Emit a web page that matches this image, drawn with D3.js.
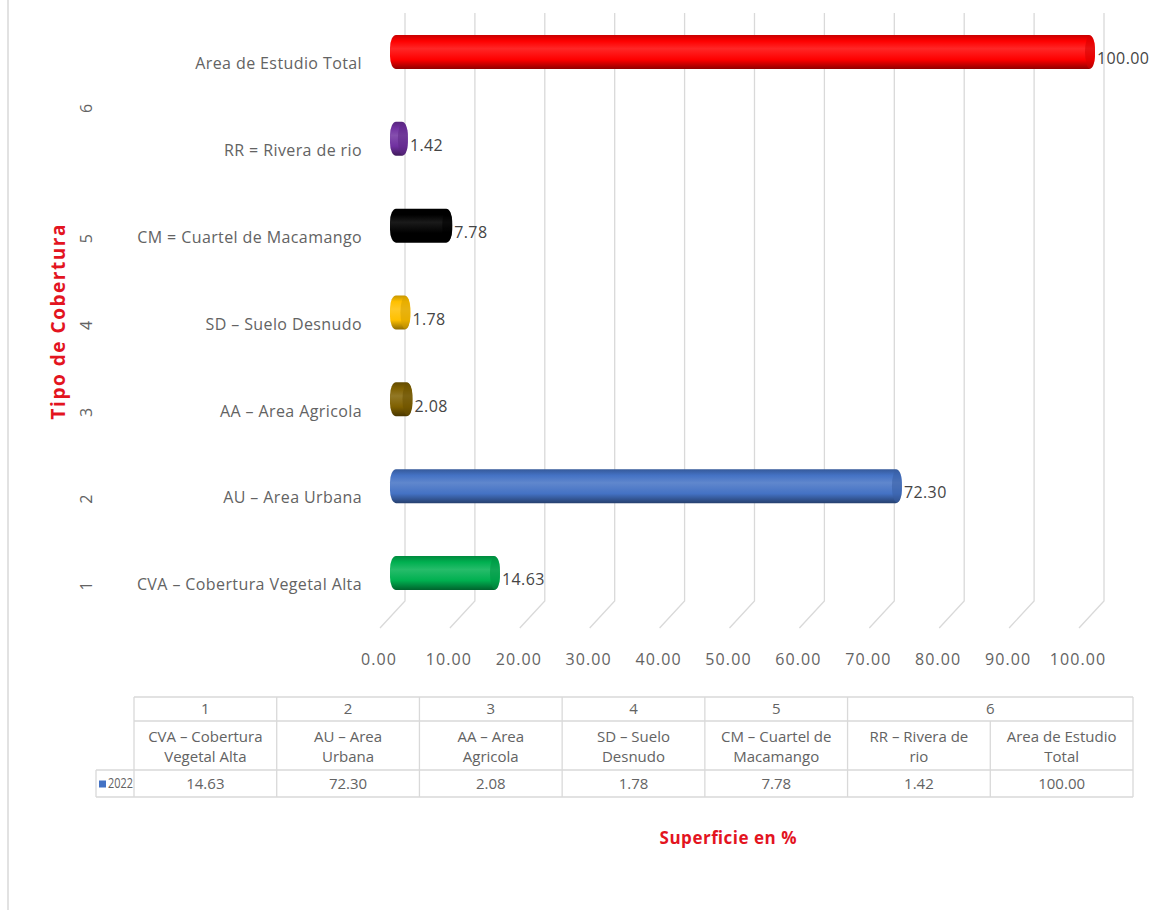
<!DOCTYPE html>
<html>
<head>
<meta charset="utf-8">
<script src="https://cdn.jsdelivr.net/npm/d3@7/dist/d3.min.js"></script>
<style>
  body { margin: 0; background: #fff; }
  text { font-family: "Open Sans", Lato, sans-serif; }
</style>
</head>
<body>
<div id="chart"></div>
<script>
// datos del grafico
const groups = ["1", "2", "3", "4", "5", "6", "6"];
const categories = ["CVA – Cobertura Vegetal Alta", "AU – Area Urbana", "AA – Area Agricola",
  "SD – Suelo Desnudo", "CM = Cuartel de Macamango", "RR = Rivera de rio", "Area de Estudio Total"];
const tableNames = [["CVA – Cobertura", "Vegetal Alta"], ["AU – Area", "Urbana"], ["AA – Area", "Agricola"],
  ["SD – Suelo", "Desnudo"], ["CM – Cuartel de", "Macamango"], ["RR – Rivera de", "rio"], ["Area de Estudio", "Total"]];
const values2022 = [14.63, 72.30, 2.08, 1.78, 7.78, 1.42, 100.00];
const barColors = ["#00b050", "#4472c4", "#7f6000", "#ffc000", "#000000", "#7030a0", "#ff0000"];
const seriesName = "2022";

const W = 1150, H = 910;
const svg = d3.select("#chart").append("svg")
  .attr("width", W).attr("height", H);

const gray = "#636363";
const gridColor = "#d9d9d9";

// borde izquierdo
svg.append("line").attr("x1", 8).attr("x2", 8).attr("y1", 0).attr("y2", H)
  .attr("stroke", gridColor).attr("stroke-width", 1.5);

// escalas
const idx = d3.range(categories.length);
const y = d3.scalePoint().domain(idx.slice().reverse()).range([52, 573]);
const xGrid = d3.scaleLinear().domain([0, 100]).range([405, 1104]);
const xBar = d3.scaleLinear().domain([0, 100]).range([394, 1091]);
const gridTop = 13, gridBot = 601, floorDx = -25, floorDy = 27;

// lineas de cuadricula con piso en perspectiva
const ticks = xGrid.ticks(10);
svg.append("g").selectAll("path").data(ticks).join("path")
  .attr("d", d => `M${xGrid(d)},${gridTop}V${gridBot}l${floorDx},${floorDy}`)
  .attr("fill", "none").attr("stroke", gridColor).attr("stroke-width", 1.3);

svg.append("g").selectAll("text").data(ticks).join("text")
  .attr("x", d => xGrid(d) + floorDx - 1)
  .attr("y", 661)
  .attr("text-anchor", "middle").attr("dominant-baseline", "middle")
  .attr("font-size", 16).attr("letter-spacing", 1.1).attr("fill", gray)
  .text(d => d3.format(".2f")(d));

// gradientes para cilindros
const defs = svg.append("defs");
barColors.forEach((c, i) => {
  const base = d3.rgb(c);
  const light = d3.interpolateRgb(c, "#ffffff")(c === "#000000" ? 0.1 : 0.15);
  const g = defs.append("linearGradient").attr("id", "cyl" + i)
    .attr("x1", 0).attr("y1", 0).attr("x2", 0).attr("y2", 1);
  g.append("stop").attr("offset", "0%").attr("stop-color", base.darker(0.7));
  g.append("stop").attr("offset", "18%").attr("stop-color", c);
  g.append("stop").attr("offset", "40%").attr("stop-color", light);
  g.append("stop").attr("offset", "72%").attr("stop-color", c);
  g.append("stop").attr("offset", "100%").attr("stop-color", base.darker(1.6));
});

const barH = 34;
const bars = svg.append("g").selectAll("g").data(idx).join("g");
bars.append("rect")
  .attr("x", xBar(0) - 4)
  .attr("y", i => y(i) - barH / 2)
  .attr("width", i => xBar(values2022[i]) - xBar(0) + 8)
  .attr("height", barH)
  .attr("rx", 6).attr("ry", 13)
  .attr("fill", i => `url(#cyl${i})`);
// tapa derecha del cilindro
bars.append("ellipse")
  .attr("cx", i => xBar(values2022[i]) - 1)
  .attr("cy", i => y(i))
  .attr("rx", 5).attr("ry", barH / 2 - 0.5)
  .attr("fill", i => d3.rgb(barColors[i]).darker(0.5))
  .attr("opacity", 0.55);

// etiquetas de valor
svg.append("g").selectAll("text").data(idx).join("text")
  .attr("x", i => xBar(values2022[i]) + 6)
  .attr("y", i => y(i) + 8)
  .attr("dominant-baseline", "middle")
  .attr("font-size", 16).attr("letter-spacing", 0.4).attr("fill", "#454545")
  .text(i => d3.format(".2f")(values2022[i]));

// etiquetas de categoria
svg.append("g").selectAll("text").data(idx).join("text")
  .attr("x", 362)
  .attr("y", i => y(i) + 13)
  .attr("text-anchor", "end").attr("dominant-baseline", "middle")
  .attr("font-size", 16).attr("letter-spacing", 0.4).attr("fill", gray)
  .text(i => categories[i]);

// etiquetas de grupo (nivel 2)
const groupIds = Array.from(new Set(groups));
svg.append("g").selectAll("text").data(groupIds).join("text")
  .attr("transform", gId => {
    const members = idx.filter(i => groups[i] === gId);
    const cy = d3.mean(members, i => y(i)) + 13;
    return `translate(88,${cy}) rotate(-90)`;
  })
  .attr("text-anchor", "middle").attr("dominant-baseline", "middle")
  .attr("font-size", 16).attr("fill", gray)
  .text(d => d);

// titulo eje vertical
svg.append("text")
  .attr("transform", "translate(60,322) rotate(-90)")
  .attr("text-anchor", "middle").attr("dominant-baseline", "middle")
  .attr("font-size", 19).attr("font-weight", "bold").attr("fill", "#e3141f")
  .attr("textLength", 195).attr("lengthAdjust", "spacing")
  .text("Tipo de Cobertura");

// tabla de datos
const legL = 96, tabL = 134, tabR = 1133;
const rowY = [697, 721, 770, 797];
const col = d3.scaleBand().domain(idx).range([tabL, tabR]);
const tbl = svg.append("g");
const lineStyle = sel => sel.attr("stroke", gridColor).attr("stroke-width", 1.3);

tbl.append("line").attr("x1", tabL).attr("x2", tabR).attr("y1", rowY[0]).attr("y2", rowY[0]).call(lineStyle);
tbl.append("line").attr("x1", tabL).attr("x2", tabR).attr("y1", rowY[1]).attr("y2", rowY[1]).call(lineStyle);
tbl.append("line").attr("x1", legL).attr("x2", tabR).attr("y1", rowY[2]).attr("y2", rowY[2]).call(lineStyle);
tbl.append("line").attr("x1", legL).attr("x2", tabR).attr("y1", rowY[3]).attr("y2", rowY[3]).call(lineStyle);
tbl.append("line").attr("x1", legL).attr("x2", legL).attr("y1", rowY[2]).attr("y2", rowY[3]).call(lineStyle);

// bordes verticales (el grupo 6 abarca dos columnas en la cabecera)
const bounds = idx.map(i => col(i)).concat([tabR]);
tbl.selectAll(".vb").data(bounds).join("line")
  .attr("x1", d => d).attr("x2", d => d)
  .attr("y1", (d, k) => (k > 0 && k < idx.length && groups[k] === groups[k - 1]) ? rowY[1] : rowY[0])
  .attr("y2", rowY[3])
  .call(lineStyle);

tbl.selectAll(".gh").data(groupIds).join("text")
  .attr("x", gId => {
    const members = idx.filter(i => groups[i] === gId);
    return d3.mean(members, i => col(i) + col.bandwidth() / 2);
  })
  .attr("y", (rowY[0] + rowY[1]) / 2 + 1)
  .attr("text-anchor", "middle").attr("dominant-baseline", "middle")
  .attr("font-size", 15).attr("fill", gray)
  .text(d => d);

const nameCells = tbl.selectAll(".nm").data(idx).join("text")
  .attr("text-anchor", "middle")
  .attr("font-size", 15).attr("fill", gray);
nameCells.selectAll("tspan").data(i => tableNames[i].map(t => ({ t, i }))).join("tspan")
  .attr("x", d => col(d.i) + col.bandwidth() / 2)
  .attr("y", (d, k) => rowY[1] + 17 + k * 20)
  .attr("dominant-baseline", "middle")
  .text(d => d.t);

tbl.selectAll(".vl").data(idx).join("text")
  .attr("x", i => col(i) + col.bandwidth() / 2)
  .attr("y", (rowY[2] + rowY[3]) / 2 + 1)
  .attr("text-anchor", "middle").attr("dominant-baseline", "middle")
  .attr("font-size", 15).attr("fill", gray)
  .text(i => d3.format(".2f")(values2022[i]));

// clave de leyenda
tbl.append("rect").attr("x", legL + 3).attr("y", (rowY[2] + rowY[3]) / 2 - 3)
  .attr("width", 7).attr("height", 7).attr("fill", "#4472c4");
tbl.append("text").attr("x", legL + 12).attr("y", (rowY[2] + rowY[3]) / 2 + 1)
  .attr("dominant-baseline", "middle").attr("font-size", 14).attr("fill", gray)
  .attr("textLength", 25).attr("lengthAdjust", "spacingAndGlyphs")
  .text(seriesName);

// titulo eje horizontal
svg.append("text")
  .attr("x", 728).attr("y", 839)
  .attr("text-anchor", "middle").attr("dominant-baseline", "middle")
  .attr("font-size", 17).attr("font-weight", "bold").attr("fill", "#e3141f")
  .attr("textLength", 137).attr("lengthAdjust", "spacing")
  .text("Superficie en %");
</script>
</body>
</html>
